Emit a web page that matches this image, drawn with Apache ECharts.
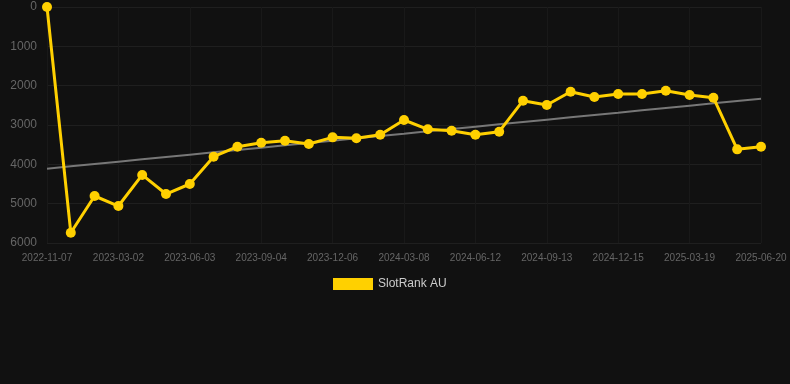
<!DOCTYPE html>
<html>
<head>
<meta charset="utf-8">
<style>
  html, body { margin: 0; padding: 0; background: #111111; }
  #chart { width: 790px; height: 384px; }
</style>
<script src="https://cdn.jsdelivr.net/npm/echarts@6/dist/echarts.min.js"></script>
</head>
<body>
<div id="chart"></div>
<script>
// Dates on the x axis (every third one is labelled)
const dates = [
  '2022-11-07', '2022-12-29', '2023-01-30', '2023-03-02', '2023-04-02', '2023-05-03',
  '2023-06-03', '2023-07-04', '2023-08-04', '2023-09-04', '2023-10-05', '2023-11-05',
  '2023-12-06', '2024-01-06', '2024-02-06', '2024-03-08', '2024-04-08', '2024-05-11',
  '2024-06-12', '2024-07-13', '2024-08-13', '2024-09-13', '2024-10-14', '2024-11-14',
  '2024-12-15', '2025-01-15', '2025-02-16', '2025-03-19', '2025-04-19', '2025-05-20',
  '2025-06-20'
];

// SlotRank AU rank values
const rankAU = [
  0, 5740, 4805, 5060, 4270, 4755, 4500, 3806, 3551, 3450, 3399, 3483,
  3314, 3339, 3246, 2873, 3110, 3145, 3246, 3170, 2382, 2492, 2153, 2288,
  2212, 2212, 2127, 2237, 2305, 3619, 3551
];

// least squares trend over the series
function trendLine(values) {
  const n = values.length;
  let sx = 0, sy = 0, sxy = 0, sxx = 0;
  values.forEach((v, i) => { sx += i; sy += v; sxy += i * v; sxx += i * i; });
  const slope = (n * sxy - sx * sy) / (n * sxx - sx * sx);
  const icpt = (sy - slope * sx) / n;
  return values.map((v, i) => Math.round(icpt + slope * i));
}

const chart = echarts.init(document.getElementById('chart'));

chart.setOption({
  backgroundColor: '#111111',
  animation: false,
  grid: { left: 47, right: 29, top: 7, bottom: 141, containLabel: false },
  legend: {
    top: 273,
    left: 328,
    itemWidth: 40,
    itemHeight: 12,
    itemGap: 10,
    textStyle: { color: '#cccccc', fontSize: 12, fontFamily: 'Liberation Sans, Arial, sans-serif' },
    data: [{ name: 'SlotRank AU', icon: 'rect' }]
  },
  xAxis: {
    type: 'category',
    data: dates,
    boundaryGap: false,
    axisLine: { show: false },
    axisTick: { show: false },
    axisLabel: {
      interval: 2,
      color: '#666666',
      fontSize: 10,
      margin: 10,
      fontFamily: 'Liberation Sans, Arial, sans-serif'
    },
    splitLine: { show: true, interval: 2, lineStyle: { color: '#191919', width: 1 } }
  },
  yAxis: {
    type: 'value',
    inverse: true,
    min: 0,
    max: 6000,
    interval: 1000,
    axisLine: { show: false },
    axisTick: { show: false },
    axisLabel: {
      color: '#666666',
      fontSize: 12,
      margin: 10,
      formatter: v => String(v),
      fontFamily: 'Liberation Sans, Arial, sans-serif'
    },
    splitLine: { lineStyle: { color: '#1f1f1f', width: 1 } }
  },
  series: [
    {
      name: 'SlotRank AU',
      type: 'line',
      data: rankAU,
      symbol: 'circle',
      symbolSize: 10,
      itemStyle: { color: '#ffd000' },
      lineStyle: { color: '#ffd000', width: 3 },
      z: 3
    },
    {
      name: 'trend',
      type: 'line',
      data: trendLine(rankAU),
      symbol: 'none',
      lineStyle: { color: '#777777', width: 2 },
      z: 2
    }
  ]
});
</script>
</body>
</html>
